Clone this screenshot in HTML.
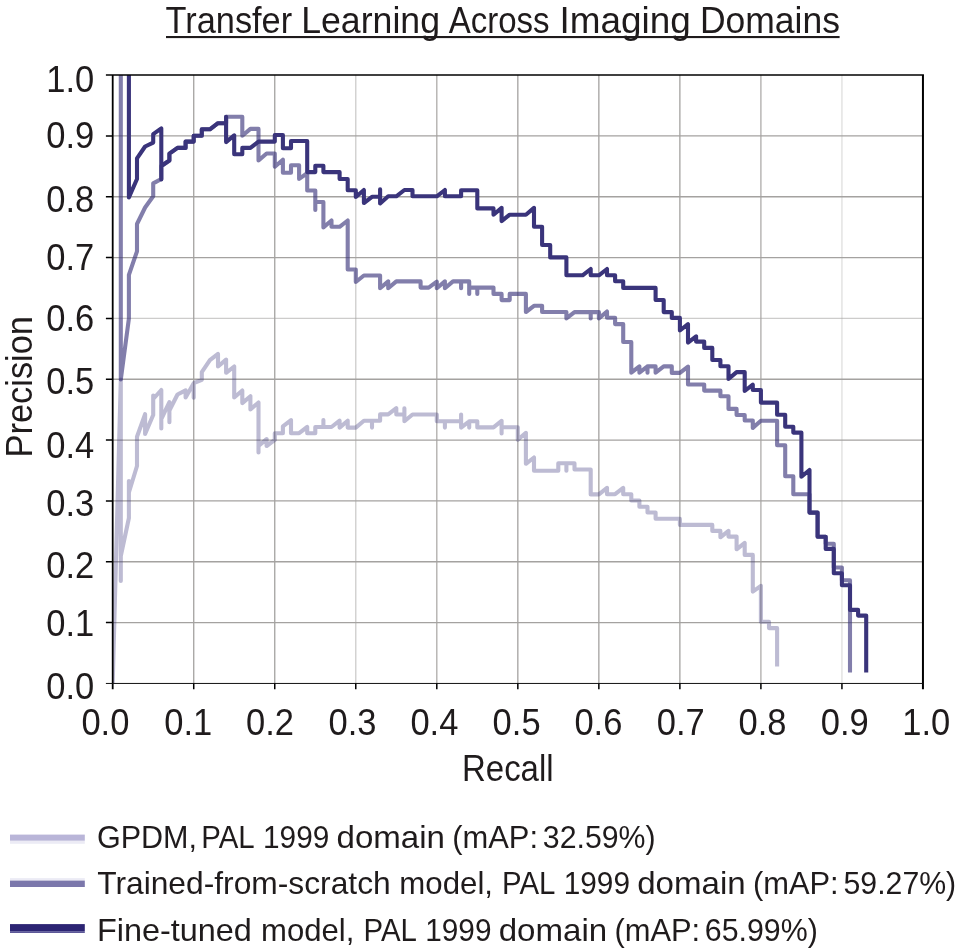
<!DOCTYPE html>
<html lang="en"><head><meta charset="utf-8"><title>Transfer Learning Across Imaging Domains</title>
<style>html,body{margin:0;padding:0;background:#fff}svg{display:block}</style></head>
<body>
<svg width="958" height="950" viewBox="0 0 958 950">
<rect width="958" height="950" fill="#fff"/>
<path d="M193.73 75.1V683.4" stroke="#a4a2a0" stroke-opacity="1" stroke-width="1.3" fill="none"/>
<path d="M112.7 135.93H922.95" stroke="#a4a2a0" stroke-opacity="1" stroke-width="1.3" fill="none"/>
<path d="M274.75 75.1V683.4" stroke="#a4a2a0" stroke-opacity="1" stroke-width="1.3" fill="none"/>
<path d="M112.7 196.76H922.95" stroke="#a4a2a0" stroke-opacity="1" stroke-width="1.3" fill="none"/>
<path d="M355.77 75.1V683.4" stroke="#a4a2a0" stroke-opacity="0.55" stroke-width="1.3" fill="none"/>
<path d="M112.7 257.59H922.95" stroke="#a4a2a0" stroke-opacity="1" stroke-width="1.3" fill="none"/>
<path d="M436.80 75.1V683.4" stroke="#a4a2a0" stroke-opacity="0.9" stroke-width="1.3" fill="none"/>
<path d="M112.7 318.42H922.95" stroke="#a4a2a0" stroke-opacity="0.55" stroke-width="1.3" fill="none"/>
<path d="M517.83 75.1V683.4" stroke="#a4a2a0" stroke-opacity="1" stroke-width="1.3" fill="none"/>
<path d="M112.7 379.25H922.95" stroke="#a4a2a0" stroke-opacity="1" stroke-width="1.3" fill="none"/>
<path d="M598.85 75.1V683.4" stroke="#a4a2a0" stroke-opacity="1" stroke-width="1.3" fill="none"/>
<path d="M112.7 440.08H922.95" stroke="#a4a2a0" stroke-opacity="1" stroke-width="1.3" fill="none"/>
<path d="M679.88 75.1V683.4" stroke="#a4a2a0" stroke-opacity="1" stroke-width="1.3" fill="none"/>
<path d="M112.7 500.91H922.95" stroke="#a4a2a0" stroke-opacity="1" stroke-width="1.3" fill="none"/>
<path d="M760.90 75.1V683.4" stroke="#a4a2a0" stroke-opacity="0.9" stroke-width="1.3" fill="none"/>
<path d="M112.7 561.74H922.95" stroke="#a4a2a0" stroke-opacity="1" stroke-width="1.3" fill="none"/>
<path d="M841.93 75.1V683.4" stroke="#a4a2a0" stroke-opacity="0.35" stroke-width="1.3" fill="none"/>
<path d="M112.7 622.57H922.95" stroke="#a4a2a0" stroke-opacity="1" stroke-width="1.3" fill="none"/>
<defs><clipPath id="plot"><rect x="112.7" y="75.1" width="810.25" height="608.3"/></clipPath></defs>
<g clip-path="url(#plot)">
<path d="M112.7 683.4L120.8 379.5L120.8 581.0L120.8 556.0L128.9 518.0L128.9 481.0L128.9 492.5L137.0 466.0L137.0 436.8L145.1 414.2L145.1 433.9L153.2 415.0L153.2 395.5L153.2 399.0L161.3 390.0L161.3 428.4L161.3 419.0L169.4 402.1L169.4 422.2L169.4 410.5L177.5 394.5L185.6 390.4L185.6 397.5L193.7 383.2L193.7 397.7L193.7 383.2L201.8 379.8L201.8 372.2L209.9 360.2L218.0 353.9L218.0 366.5L226.1 359.6L226.1 372.8L234.2 366.5L234.2 397.5L242.3 390.5L242.3 403.1L250.4 396.2L250.4 409.4L258.5 402.5L258.5 452.4L258.5 446.0L266.6 439.1L266.6 446.0L274.8 439.9L274.8 433.2L282.9 433.2L282.9 426.3L291.0 420.1L291.0 433.2L299.1 433.2L307.2 427.0L307.2 433.2L315.3 433.2L315.3 427.0L323.4 427.0L323.4 420.1L323.4 427.0L331.5 427.0L339.6 420.7L339.6 427.6L347.7 420.7L347.7 427.6L355.8 427.6L363.9 420.7L372.0 420.7L372.0 427.6L372.0 420.7L380.1 420.7L380.1 414.4L388.2 414.4L396.3 408.2L396.3 414.5L404.4 414.5L404.4 408.2L404.4 421.3L412.5 414.5L436.8 414.5L436.8 421.3L444.9 421.3L444.9 427.6L444.9 421.3L461.1 421.3L461.1 414.5L461.1 427.6L469.2 421.3L469.2 427.6L469.2 421.3L477.3 421.3L477.3 427.4L493.5 427.4L501.6 420.8L501.6 433.5L501.6 427.2L517.8 427.2L517.8 439.8L525.9 432.8L525.9 463.8L534.0 457.5L534.0 470.7L558.3 470.7L558.3 463.2L566.4 463.2L566.4 470.7L566.4 463.2L574.5 463.2L574.5 469.5L590.7 469.5L590.7 494.4L598.9 494.4L607.0 487.9L607.0 494.2L615.1 494.2L623.2 487.9L623.2 494.2L631.3 494.2L631.3 500.5L639.4 500.5L639.4 506.8L647.5 506.8L647.5 512.5L655.6 512.5L655.6 518.8L679.9 518.8L679.9 524.9L712.3 524.9L712.3 530.9L720.4 530.9L720.4 537.3L728.5 530.9L728.5 536.6L736.6 536.6L736.6 549.3L744.7 542.9L744.7 554.9L752.8 554.9L752.8 591.6L760.9 585.8L760.9 621.8L769.0 621.8L769.0 628.1L777.1 628.1L777.1 666.6" stroke="#3a347b" stroke-opacity="0.335" stroke-width="4.1" fill="none" stroke-linejoin="round"/>
<path d="M120.8 75.1L120.8 379.5L128.9 318.5L128.9 274.9L137.0 251.3L137.0 224.0L145.1 207.5L153.2 196.3L153.2 183.4L161.3 179.0L161.3 166.0L169.4 160.5L169.4 153.7L177.5 147.9L185.6 147.9L185.6 141.6L193.7 141.6L193.7 135.8L201.8 135.8L201.8 129.3L209.9 129.3L218.0 123.2L226.1 123.2L226.1 116.8L242.3 116.8L242.3 135.8L250.4 128.9L258.5 128.9L258.5 160.5L266.6 153.5L274.8 153.5L274.8 166.8L282.9 159.7L282.9 172.8L291.0 172.8L291.0 165.3L299.1 165.3L299.1 178.9L307.2 173.2L307.2 190.5L315.3 190.5L315.3 210.0L315.3 202.0L323.4 202.0L323.4 227.4L331.5 220.5L331.5 226.8L339.6 226.8L347.7 220.5L347.7 269.5L355.8 269.5L355.8 282.0L363.9 275.5L380.1 275.5L380.1 288.2L388.2 281.4L388.2 288.2L396.3 281.4L420.6 281.4L420.6 287.6L428.7 287.6L436.8 281.6L436.8 288.2L444.9 281.4L444.9 288.2L453.0 281.4L461.1 281.4L461.1 288.2L461.1 281.4L469.2 281.4L469.2 293.9L469.2 287.6L477.3 287.6L477.3 293.9L477.3 287.6L493.5 287.6L493.5 293.9L501.6 293.9L501.6 300.1L509.7 300.1L509.7 293.9L525.9 293.9L525.9 312.0L534.0 305.8L542.1 305.8L542.1 312.0L566.4 312.0L566.4 318.4L574.5 312.1L590.7 312.1L590.7 318.4L590.7 312.1L598.9 312.1L598.9 318.4L607.0 311.5L607.0 317.8L615.1 317.8L615.1 324.1L623.2 324.1L623.2 342.0L631.3 342.0L631.3 372.7L639.4 366.4L639.4 372.7L647.5 366.4L647.5 372.7L647.5 366.4L655.6 366.4L655.6 372.7L663.7 366.4L671.8 366.4L671.8 372.9L679.9 372.9L688.0 366.6L688.0 384.5L704.2 384.5L704.2 390.6L720.4 390.6L720.4 396.3L728.5 396.3L728.5 408.9L736.6 408.9L736.6 415.0L744.7 415.0L744.7 420.5L752.8 420.5L752.8 427.9L760.9 420.8L777.1 420.8L777.1 445.3L785.2 445.3L785.2 476.3L793.3 476.3L793.3 494.2L809.5 494.2L809.5 512.6L817.6 512.6L817.6 536.8L825.7 536.8L825.7 543.7L833.8 543.7L833.8 567.5L841.9 567.5L841.9 580.2L850.0 580.2L850.0 672.4" stroke="#3a347b" stroke-opacity="0.635" stroke-width="4.1" fill="none" stroke-linejoin="round"/>
<path d="M128.9 75.1L128.9 197.4L137.0 179.0L137.0 158.4L145.1 146.5L153.2 142.6L153.2 134.2L161.3 128.4L161.3 179.5L161.3 166.0L169.4 160.5L169.4 153.7L177.5 147.9L185.6 147.9L185.6 141.6L193.7 141.6L193.7 135.8L201.8 135.8L201.8 129.3L209.9 129.3L218.0 123.2L226.1 123.2L226.1 116.8L226.1 142.1L234.2 135.3L234.2 154.2L242.3 154.2L242.3 147.9L250.4 147.9L258.5 141.6L274.8 141.6L274.8 135.0L282.9 135.0L282.9 148.2L291.0 148.2L291.0 141.0L307.2 141.0L307.2 172.1L315.3 172.1L315.3 165.8L323.4 165.8L323.4 172.1L339.6 172.1L339.6 179.0L347.7 179.0L347.7 190.3L355.8 190.3L355.8 197.0L363.9 190.0L363.9 203.0L372.0 196.8L380.1 196.8L380.1 189.2L380.1 203.5L388.2 196.3L396.3 196.3L404.4 190.0L412.5 190.0L412.5 196.3L436.8 196.3L444.9 190.0L444.9 196.3L461.1 196.3L461.1 190.2L477.3 190.2L477.3 208.4L493.5 208.4L493.5 214.7L501.6 207.9L501.6 221.1L509.7 214.7L525.9 214.7L534.0 207.9L534.0 226.8L542.1 226.8L542.1 245.0L550.2 245.0L550.2 257.4L566.4 257.4L566.4 275.3L582.6 275.3L590.7 269.0L590.7 275.3L598.9 275.3L607.0 269.0L607.0 275.3L615.1 275.3L615.1 281.3L623.2 281.3L623.2 287.9L655.6 287.9L655.6 300.0L663.7 300.0L663.7 312.1L671.8 312.1L671.8 317.9L679.9 317.9L679.9 330.5L688.0 324.2L688.0 342.6L696.1 336.3L696.1 341.6L704.2 341.6L704.2 347.9L712.3 347.9L712.3 360.0L720.4 360.0L720.4 366.3L728.5 366.3L728.5 379.0L736.6 372.1L744.7 372.1L744.7 391.0L752.8 384.7L752.8 390.0L760.9 390.0L760.9 402.6L777.1 402.6L777.1 414.7L785.2 414.7L785.2 426.8L793.3 426.8L793.3 432.6L801.4 432.6L801.4 476.8L809.5 470.0L809.5 512.6L817.6 512.6L817.6 536.8L825.7 536.8L825.7 548.9L833.8 548.9L833.8 573.2L841.9 573.2L841.9 585.3L850.0 585.3L850.0 609.9L858.1 609.9L858.1 615.6L866.2 615.6L866.2 672.4" stroke="#3a347b" stroke-width="4.1" fill="none" stroke-linejoin="round"/>
</g>
<path d="M105.9 75.1H923.95" stroke="#000" stroke-width="1.5" fill="none"/>
<path d="M112.7 75.1V689.1999999999999" stroke="#000" stroke-width="1.8" fill="none"/>
<path d="M922.95 75.1V689.1999999999999" stroke="#000" stroke-width="2" fill="none"/>
<path d="M105.9 683.4499999999999H922.95" stroke="#111" stroke-width="1" fill="none"/>
<path d="M193.73 683.4v5.8M105.9 135.93h6.8M274.75 683.4v5.8M105.9 196.76h6.8M355.77 683.4v5.8M105.9 257.59h6.8M436.80 683.4v5.8M105.9 318.42h6.8M517.83 683.4v5.8M105.9 379.25h6.8M598.85 683.4v5.8M105.9 440.08h6.8M679.88 683.4v5.8M105.9 500.91h6.8M760.90 683.4v5.8M105.9 561.74h6.8M841.93 683.4v5.8M105.9 622.57h6.8" stroke="#000" stroke-width="1.5" fill="none"/>
<text y="32.9" font-family="Liberation Sans, Arial, sans-serif" font-size="37.4" fill="#1f1b1c"><tspan x="165.6" textLength="126.5" lengthAdjust="spacingAndGlyphs">Transfer</tspan> <tspan x="301.2" textLength="138.8" lengthAdjust="spacingAndGlyphs">Learning</tspan> <tspan x="448.7" textLength="100.9" lengthAdjust="spacingAndGlyphs">Across</tspan> <tspan x="559.4" textLength="131.3" lengthAdjust="spacingAndGlyphs">Imaging</tspan> <tspan x="699.9" textLength="140.0" lengthAdjust="spacingAndGlyphs">Domains</tspan></text>
<text y="848.1" font-family="Liberation Sans, Arial, sans-serif" font-size="31.4" fill="#1f1b1c"><tspan x="96.9" textLength="100.1" lengthAdjust="spacingAndGlyphs">GPDM,</tspan> <tspan x="201.3" textLength="52.3" lengthAdjust="spacingAndGlyphs">PAL</tspan> <tspan x="263.0" textLength="66.3" lengthAdjust="spacingAndGlyphs">1999</tspan> <tspan x="336.5" textLength="108.5" lengthAdjust="spacingAndGlyphs">domain</tspan> <tspan x="452.2" textLength="85.8" lengthAdjust="spacingAndGlyphs">(mAP:</tspan> <tspan x="542.8" textLength="112.8" lengthAdjust="spacingAndGlyphs">32.59%)</tspan></text>
<text y="894.3" font-family="Liberation Sans, Arial, sans-serif" font-size="31.4" fill="#1f1b1c"><tspan x="97.2" textLength="293.5" lengthAdjust="spacingAndGlyphs">Trained-from-scratch</tspan> <tspan x="399.3" textLength="93.7" lengthAdjust="spacingAndGlyphs">model,</tspan> <tspan x="502.0" textLength="52.3" lengthAdjust="spacingAndGlyphs">PAL</tspan> <tspan x="563.7" textLength="66.3" lengthAdjust="spacingAndGlyphs">1999</tspan> <tspan x="637.2" textLength="108.5" lengthAdjust="spacingAndGlyphs">domain</tspan> <tspan x="752.9" textLength="85.8" lengthAdjust="spacingAndGlyphs">(mAP:</tspan> <tspan x="843.5" textLength="112.7" lengthAdjust="spacingAndGlyphs">59.27%)</tspan></text>
<text y="941.1" font-family="Liberation Sans, Arial, sans-serif" font-size="31.4" fill="#1f1b1c"><tspan x="96.9" textLength="155.0" lengthAdjust="spacingAndGlyphs">Fine-tuned</tspan> <tspan x="261.0" textLength="93.3" lengthAdjust="spacingAndGlyphs">model,</tspan> <tspan x="363.5" textLength="52.3" lengthAdjust="spacingAndGlyphs">PAL</tspan> <tspan x="425.2" textLength="66.3" lengthAdjust="spacingAndGlyphs">1999</tspan> <tspan x="498.7" textLength="108.5" lengthAdjust="spacingAndGlyphs">domain</tspan> <tspan x="614.4" textLength="85.8" lengthAdjust="spacingAndGlyphs">(mAP:</tspan> <tspan x="704.8" textLength="113.0" lengthAdjust="spacingAndGlyphs">65.99%)</tspan></text>
<text y="780.6" font-family="Liberation Sans, Arial, sans-serif" font-size="37.4" fill="#1f1b1c"><tspan x="462.0" textLength="91.6" lengthAdjust="spacingAndGlyphs">Recall</tspan></text>
<rect x="166" y="36" width="673.6" height="2.1" fill="#1f1b1c"/>
<text x="46.3" y="92.0" font-family="Liberation Sans, Arial, sans-serif" font-size="36.6" fill="#1f1b1c" text-anchor="start" textLength="48.0" lengthAdjust="spacingAndGlyphs">1.0</text>
<text x="46.3" y="148.2" font-family="Liberation Sans, Arial, sans-serif" font-size="36.6" fill="#1f1b1c" text-anchor="start" textLength="48.0" lengthAdjust="spacingAndGlyphs">0.9</text>
<text x="46.3" y="212.4" font-family="Liberation Sans, Arial, sans-serif" font-size="36.6" fill="#1f1b1c" text-anchor="start" textLength="48.0" lengthAdjust="spacingAndGlyphs">0.8</text>
<text x="46.3" y="270.1" font-family="Liberation Sans, Arial, sans-serif" font-size="36.6" fill="#1f1b1c" text-anchor="start" textLength="48.0" lengthAdjust="spacingAndGlyphs">0.7</text>
<text x="46.3" y="331.1" font-family="Liberation Sans, Arial, sans-serif" font-size="36.6" fill="#1f1b1c" text-anchor="start" textLength="48.0" lengthAdjust="spacingAndGlyphs">0.6</text>
<text x="46.3" y="394.2" font-family="Liberation Sans, Arial, sans-serif" font-size="36.6" fill="#1f1b1c" text-anchor="start" textLength="48.0" lengthAdjust="spacingAndGlyphs">0.5</text>
<text x="46.3" y="457.9" font-family="Liberation Sans, Arial, sans-serif" font-size="36.6" fill="#1f1b1c" text-anchor="start" textLength="48.0" lengthAdjust="spacingAndGlyphs">0.4</text>
<text x="46.3" y="516.0" font-family="Liberation Sans, Arial, sans-serif" font-size="36.6" fill="#1f1b1c" text-anchor="start" textLength="48.0" lengthAdjust="spacingAndGlyphs">0.3</text>
<text x="46.3" y="578.0" font-family="Liberation Sans, Arial, sans-serif" font-size="36.6" fill="#1f1b1c" text-anchor="start" textLength="48.0" lengthAdjust="spacingAndGlyphs">0.2</text>
<text x="46.3" y="636.0" font-family="Liberation Sans, Arial, sans-serif" font-size="36.6" fill="#1f1b1c" text-anchor="start" textLength="48.0" lengthAdjust="spacingAndGlyphs">0.1</text>
<text x="46.3" y="699.0" font-family="Liberation Sans, Arial, sans-serif" font-size="36.6" fill="#1f1b1c" text-anchor="start" textLength="48.0" lengthAdjust="spacingAndGlyphs">0.0</text>
<text x="81.4" y="735.1" font-family="Liberation Sans, Arial, sans-serif" font-size="36.6" fill="#1f1b1c" text-anchor="start" textLength="48.0" lengthAdjust="spacingAndGlyphs">0.0</text>
<text x="164.2" y="735.1" font-family="Liberation Sans, Arial, sans-serif" font-size="36.6" fill="#1f1b1c" text-anchor="start" textLength="48.0" lengthAdjust="spacingAndGlyphs">0.1</text>
<text x="246.0" y="735.1" font-family="Liberation Sans, Arial, sans-serif" font-size="36.6" fill="#1f1b1c" text-anchor="start" textLength="48.0" lengthAdjust="spacingAndGlyphs">0.2</text>
<text x="328.5" y="735.1" font-family="Liberation Sans, Arial, sans-serif" font-size="36.6" fill="#1f1b1c" text-anchor="start" textLength="48.0" lengthAdjust="spacingAndGlyphs">0.3</text>
<text x="410.4" y="735.1" font-family="Liberation Sans, Arial, sans-serif" font-size="36.6" fill="#1f1b1c" text-anchor="start" textLength="48.0" lengthAdjust="spacingAndGlyphs">0.4</text>
<text x="492.6" y="735.1" font-family="Liberation Sans, Arial, sans-serif" font-size="36.6" fill="#1f1b1c" text-anchor="start" textLength="48.0" lengthAdjust="spacingAndGlyphs">0.5</text>
<text x="574.4" y="735.1" font-family="Liberation Sans, Arial, sans-serif" font-size="36.6" fill="#1f1b1c" text-anchor="start" textLength="48.0" lengthAdjust="spacingAndGlyphs">0.6</text>
<text x="656.8" y="735.1" font-family="Liberation Sans, Arial, sans-serif" font-size="36.6" fill="#1f1b1c" text-anchor="start" textLength="48.0" lengthAdjust="spacingAndGlyphs">0.7</text>
<text x="738.5" y="735.1" font-family="Liberation Sans, Arial, sans-serif" font-size="36.6" fill="#1f1b1c" text-anchor="start" textLength="48.0" lengthAdjust="spacingAndGlyphs">0.8</text>
<text x="820.7" y="735.1" font-family="Liberation Sans, Arial, sans-serif" font-size="36.6" fill="#1f1b1c" text-anchor="start" textLength="48.0" lengthAdjust="spacingAndGlyphs">0.9</text>
<text x="902.2" y="735.1" font-family="Liberation Sans, Arial, sans-serif" font-size="36.6" fill="#1f1b1c" text-anchor="start" textLength="48.0" lengthAdjust="spacingAndGlyphs">1.0</text>
<text transform="translate(31.8 457.5) rotate(-90)" font-family="Liberation Sans, Arial, sans-serif" font-size="37.4" fill="#1f1b1c" textLength="141.5" lengthAdjust="spacingAndGlyphs">Precision</text>
<rect x="10" y="834.6" width="74.8" height="6.2" fill="#b9b5d8"/><rect x="10" y="840.8" width="74.8" height="3" fill="#ecebf5"/>
<rect x="10" y="878.1" width="74.8" height="2.5" fill="#ecebf5"/><rect x="10" y="880.6" width="74.8" height="6.4" fill="#7b77ab"/>
<rect x="10" y="924.1" width="74.8" height="7" fill="#2c2473"/><rect x="10" y="931.1" width="74.8" height="1.9" fill="#5d5898"/>
</svg>
</body></html>
